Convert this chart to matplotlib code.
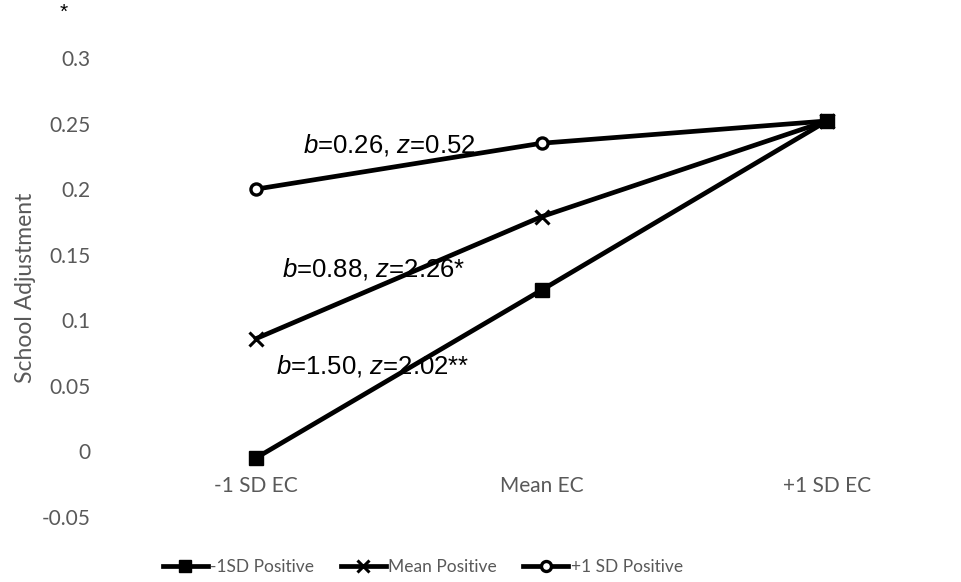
import matplotlib
matplotlib.use("Agg")
import matplotlib.pyplot as plt

categories = ["-1 SD EC", "Mean EC", "+1 SD EC"]
series_names = ["-1SD Positive", "Mean Positive", "+1 SD Positive"]
low_pos = [-0.005, 0.123, 0.252]
mean_pos = [0.086, 0.179, 0.252]
high_pos = [0.200, 0.235, 0.252]
yticks = [-0.05, 0, 0.05, 0.1, 0.15, 0.2, 0.25, 0.3]
ytick_labels = ["-0.05", "0", "0.05", "0.1", "0.15", "0.2", "0.25", "0.3"]
annotations = [r"$\it{b}$=0.26, $\it{z}$=0.52",
               r"$\it{b}$=0.88, $\it{z}$=2.26*",
               r"$\it{b}$=1.50, $\it{z}$=2.02**"]

plt.rcParams['mathtext.fontset'] = 'custom'
plt.rcParams['mathtext.it'] = 'Liberation Sans:italic'
plt.rcParams['mathtext.rm'] = 'Liberation Sans'
plt.rcParams['font.family'] = ['Lato', 'DejaVu Sans']

W, H = 961, 582
fig = plt.figure(figsize=(W/100, H/100), dpi=100)
L, R, T, B = 100, 950, 58, 517
ax = fig.add_axes([L/W, 1 - B/H, (R-L)/W, (B-T)/H])
ax.set_axisbelow(True)

gray = "#595959"
x = list(range(len(categories)))
lw = 3.4
h1, = ax.plot(x, low_pos, color="black", lw=lw, marker="s", ms=9.5, mfc="black", mec="black", label=series_names[0], zorder=5)
h2, = ax.plot(x, mean_pos, color="black", lw=lw, marker="x", ms=10, mew=2.2, mec="black", label=series_names[1], zorder=4)
h3, = ax.plot(x, high_pos, color="black", lw=lw, marker="o", ms=8, mfc="white", mew=2.4, mec="black", label=series_names[2], zorder=3)

xmin = (L - 256) / 285.5
xmax = (R - 256) / 285.5
ax.set_xlim(xmin, xmax)
ax.set_ylim(-0.05, 0.3)

ax.spines['bottom'].set_position(('data', 0))
for s in ax.spines.values():
    s.set_visible(False)
ax.set_yticks(yticks)
ax.set_yticklabels(ytick_labels)
ax.set_xticks(x)
ax.set_xticklabels(categories)
ax.tick_params(axis='both', length=0, labelsize=15, labelcolor=gray)
ax.tick_params(axis='x', pad=18)
ax.tick_params(axis='y', pad=7)

ax.set_ylabel("School Adjustment", fontsize=16.5, color=gray)
ax.yaxis.set_label_coords(-(100-26)/850, 0.5)
ax.yaxis.label.set_va("center")

ann_pos = [(0.165, 0.234), (0.091, 0.139), (0.070, 0.065)]
for (tx, ty), s in zip(ann_pos, annotations):
    ax.text(tx, ty, s, fontsize=18.5, family="Liberation Sans", color="black", ha="left", va="center", zorder=6)

fig.text(64/W, 1 - 12/H, "*", fontsize=15, color="black", ha="center", va="center", family="Liberation Sans")

leg = fig.legend(handles=[h1, h2, h3], loc="center", bbox_to_anchor=(0.44, 1 - 567/H), ncol=3, frameon=False,
                 prop={"family": "Lato", "size": 12.5}, handlelength=2.6, markerscale=0.9,
                 handletextpad=0.15, columnspacing=1.5)
for t in leg.get_texts():
    t.set_color(gray)

fig.savefig("out.png", dpi=100)
